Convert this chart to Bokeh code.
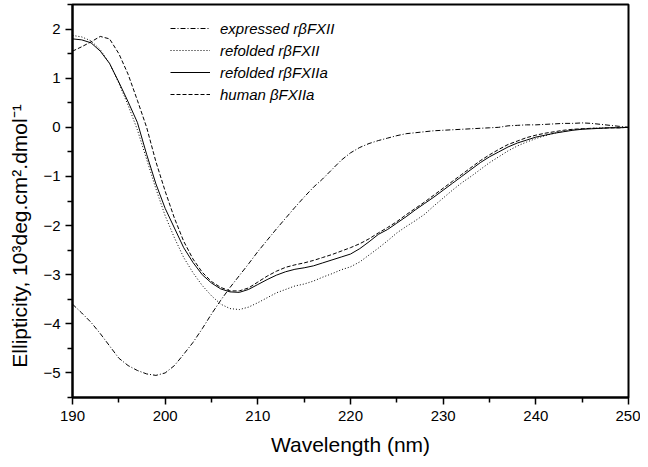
from bokeh.plotting import figure
from bokeh.models import Range1d, FixedTicker, Legend, LegendItem
from bokeh.embed import file_html
from bokeh.resources import INLINE

wavelength = list(range(190, 251))

expressed = [-3.6, -3.78, -3.97, -4.2, -4.45, -4.7, -4.85, -4.95, -5.02, -5.05,
             -5.0, -4.85, -4.62, -4.38, -4.1, -3.8, -3.52, -3.26, -3.02, -2.78,
             -2.53, -2.3, -2.07, -1.85, -1.63, -1.42, -1.22, -1.05, -0.86, -0.67,
             -0.52, -0.41, -0.33, -0.27, -0.22, -0.17, -0.13, -0.11, -0.09, -0.07,
             -0.06, -0.05, -0.04, -0.03, -0.02, -0.01, 0.0, 0.03, 0.04, 0.05,
             0.05, 0.06, 0.07, 0.08, 0.08, 0.09, 0.08, 0.06, 0.04, 0.02, 0.0]

refolded_fxii = [1.87, 1.84, 1.76, 1.58, 1.3, 0.9, 0.45, -0.05, -0.65, -1.25,
                 -1.8, -2.25, -2.65, -2.96, -3.22, -3.43, -3.6, -3.69, -3.71, -3.66,
                 -3.57, -3.47, -3.37, -3.3, -3.23, -3.19, -3.13, -3.05, -2.98, -2.9,
                 -2.84, -2.74, -2.6, -2.46, -2.31, -2.15, -2.02, -1.9, -1.77, -1.6,
                 -1.44, -1.28, -1.13, -1.0, -0.86, -0.72, -0.6, -0.48, -0.38, -0.3,
                 -0.23, -0.17, -0.12, -0.08, -0.05, -0.03, -0.02, -0.01, -0.01, 0.0, 0.0]

refolded_fxiia = [1.8, 1.78, 1.72, 1.55, 1.3, 0.92, 0.52, 0.1, -0.55, -1.15,
                  -1.65, -2.05, -2.45, -2.75, -3.0, -3.17, -3.29, -3.35, -3.36, -3.3,
                  -3.2, -3.1, -3.01, -2.94, -2.89, -2.86, -2.82, -2.76, -2.7, -2.64,
                  -2.58, -2.47, -2.33, -2.18, -2.08, -1.95, -1.82, -1.68, -1.55, -1.42,
                  -1.28, -1.14, -1.0, -0.86, -0.72, -0.6, -0.5, -0.4, -0.32, -0.26,
                  -0.2, -0.16, -0.12, -0.09, -0.06, -0.04, -0.03, -0.02, -0.01, -0.01, 0.0]

human_fxiia = [1.55, 1.64, 1.74, 1.85, 1.8, 1.5, 1.08, 0.55, 0.0, -0.7,
               -1.3, -1.85, -2.32, -2.68, -2.95, -3.14, -3.26, -3.33, -3.33, -3.27,
               -3.15, -3.03, -2.93, -2.85, -2.8, -2.76, -2.71, -2.65, -2.59, -2.52,
               -2.45, -2.37, -2.27, -2.15, -2.04, -1.92, -1.78, -1.65, -1.52, -1.38,
               -1.24, -1.1, -0.96, -0.82, -0.68, -0.56, -0.45, -0.35, -0.28, -0.21,
               -0.16, -0.12, -0.09, -0.06, -0.04, -0.03, -0.02, -0.02, -0.01, -0.01, 0.0]

x_ticks = [190, 200, 210, 220, 230, 240, 250]
x_minor = [195, 205, 215, 225, 235, 245]
y_ticks = [-5, -4, -3, -2, -1, 0, 1, 2]
y_minor = [-5.5, -4.5, -3.5, -2.5, -1.5, -0.5, 0.5, 1.5, 2.5]

labels = ["expressed rβFXII", "refolded rβFXII", "refolded rβFXIIa", "human βFXIIa"]

FONT = "Liberation Sans"

p = figure(width=640, height=459, x_range=Range1d(190, 250), y_range=Range1d(-5.5, 2.5),
           output_backend="svg", toolbar_location=None,
           min_border_left=72, min_border_right=12, min_border_top=4, min_border_bottom=62)
p.grid.visible = False
p.outline_line_color = "black"
p.outline_line_width = 2
p.background_fill_color = "white"
p.border_fill_color = "white"

r1 = p.line(wavelength, expressed, line_color="black", line_width=1, line_dash="5 2 1 2")
r2 = p.line(wavelength, refolded_fxii, line_color="black", line_width=1, line_dash="1 2")
r3 = p.line(wavelength, refolded_fxiia, line_color="black", line_width=1)
r4 = p.line(wavelength, human_fxiia, line_color="black", line_width=1, line_dash="4 2")

for ax, ticks, minor in [(p.xaxis[0], x_ticks, x_minor), (p.yaxis[0], y_ticks, y_minor)]:
    ax.ticker = FixedTicker(ticks=ticks, minor_ticks=minor)
    ax.axis_line_width = 2
    ax.major_tick_line_width = 1.5
    ax.minor_tick_line_width = 1.5
    ax.major_tick_in = 0
    ax.major_tick_out = 7
    ax.minor_tick_in = 0
    ax.minor_tick_out = 5
    ax.major_label_text_font = FONT
    ax.major_label_text_font_size = "15px"
    ax.major_label_text_color = "black"
    ax.axis_label_text_font = FONT
    ax.axis_label_text_font_style = "normal"
    ax.axis_label_text_font_size = "21px"
    ax.axis_label_text_color = "black"

p.xaxis[0].axis_label = "Wavelength (nm)"
p.xaxis[0].major_label_standoff = 6
p.xaxis[0].axis_label_standoff = 9
p.yaxis[0].axis_label = "Ellipticity, 10³deg.cm².dmol⁻¹" + "\u00a0" * 12
p.yaxis[0].major_label_standoff = 5
p.yaxis[0].axis_label_standoff = 9

legend = Legend(items=[LegendItem(label=labels[0], renderers=[r1]),
                       LegendItem(label=labels[1], renderers=[r2]),
                       LegendItem(label=labels[2], renderers=[r3]),
                       LegendItem(label=labels[3], renderers=[r4])],
                location=(98, 293), padding=0, margin=0, spacing=2,
                glyph_width=40, glyph_height=20, label_height=20, label_standoff=10,
                border_line_color=None, background_fill_alpha=0,
                label_text_font=FONT, label_text_font_style="italic",
                label_text_font_size="15px", label_text_color="black")
p.add_layout(legend, "center")

open("out.html", "w").write(file_html(p, INLINE))
